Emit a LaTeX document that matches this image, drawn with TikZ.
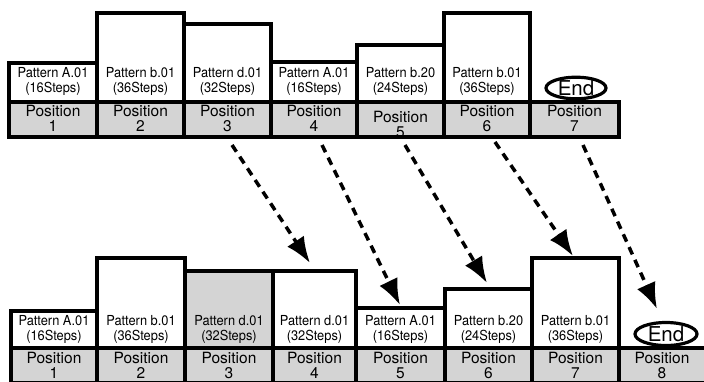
\documentclass[tikz,border=0pt]{standalone}
\usepackage{fontspec}
\setmainfont{TeX Gyre Heros}
\newfontfamily\narrowfont[FakeStretch=0.93]{TeX Gyre Heros}
\usetikzlibrary{fit,shapes.geometric,arrows.meta,calc}
\definecolor{barfill}{RGB}{212,212,212}
\begin{document}
\begin{tikzpicture}[x=1pt,y=-1pt,
  box/.style={draw, line width=3.5pt, inner sep=0pt, outer sep=0pt, fill=white},
  bar/.style={box, fill=barfill},
  lbl/.style={align=center, inner sep=0pt, font=\narrowfont\fontsize{13.8}{15}\selectfont},
  plbl/.style={align=center, inner sep=0pt, font=\fontsize{15.5}{15}\selectfont},
  endnode/.style={draw, ellipse, line width=3.2pt, inner sep=0pt, font=\fontsize{20.5}{20.5}\selectfont},
  flow/.style={line width=3.5pt, dash pattern=on 8pt off 6pt, -{Latex[length=26pt,width=20pt]}}
]
\useasboundingbox (0,0) rectangle (704,381);

% ---------- top row ----------
\node[box, fit={(9,63) (97,102)}] (t1) {};
\node[box, fit={(97,13) (184,102)}] (t2) {};
\node[box, fit={(184,24) (271,102)}] (t3) {};
\node[box, fit={(271,62) (357,102)}] (t4) {};
\node[box, fit={(357,45) (444,102)}] (t5) {};
\node[box, fit={(444,13) (530,102)}] (t6) {};

\node[bar, fit={(9,102) (97,137)}] (p1) {};
\node[bar, fit={(97,102) (184,137)}] (p2) {};
\node[bar, fit={(184,102) (271,137)}] (p3) {};
\node[bar, fit={(271,102) (357,137)}] (p4) {};
\node[bar, fit={(357,102) (444,137)}] (p5) {};
\node[bar, fit={(444,102) (530,137)}] (p6) {};
\node[bar, fit={(530,102) (619,137)}] (p7) {};

\node[lbl] (tl1) at (53,81) {Pattern A.01\\(16Steps)};
\node[lbl] (tl2) at (140.5,81) {Pattern b.01\\(36Steps)};
\node[lbl] (tl3) at (227.5,81) {Pattern d.01\\(32Steps)};
\node[lbl] (tl4) at (314,81) {Pattern A.01\\(16Steps)};
\node[lbl] (tl5) at (400.5,81) {Pattern b.20\\(24Steps)};
\node[lbl] (tl6) at (487,81) {Pattern b.01\\(36Steps)};
\node[endnode, minimum width=60pt, minimum height=21pt] (e1) at (576,88) {End};

\node[plbl] (pl1) at (53,118) {Position\\1};
\node[plbl] (pl2) at (140.5,118) {Position\\2};
\node[plbl] (pl3) at (227.5,118) {Position\\3};
\node[plbl] (pl4) at (314,118) {Position\\4};
\begin{scope}
\clip (357,102) rectangle (444,137);
\node[plbl] (pl5) at (400.5,124) {Position\\5};
\end{scope}
\node[plbl] (pl6) at (487,118) {Position\\6};
\node[plbl] (pl7) at (574.5,118) {Position\\7};
\draw[line width=3.5pt] (p5.north west) rectangle (p5.south east);

% ---------- bottom row ----------
\node[box, fit={(11,311) (97,348)}] (b1) {};
\node[box, fit={(97,258) (185,348)}] (b2) {};
\node[bar, fit={(185,271) (273,348)}] (b3) {};
\node[box, fit={(273,271) (356,348)}] (b4) {};
\node[box, fit={(356,308) (445,348)}] (b5) {};
\node[box, fit={(445,289) (532,348)}] (b6) {};
\node[box, fit={(532,258) (619,348)}] (b7) {};

\node[bar, fit={(11,348) (97,383)}] (q1) {};
\node[bar, fit={(97,348) (185,383)}] (q2) {};
\node[bar, fit={(185,348) (273,383)}] (q3) {};
\node[bar, fit={(273,348) (356,383)}] (q4) {};
\node[bar, fit={(356,348) (445,383)}] (q5) {};
\node[bar, fit={(445,348) (532,383)}] (q6) {};
\node[bar, fit={(532,348) (619,383)}] (q7) {};
\node[bar, fit={(619,348) (708,383)}] (q8) {};

\node[lbl] (bl1) at (54,329) {Pattern A.01\\(16Steps)};
\node[lbl] (bl2) at (141,329) {Pattern b.01\\(36Steps)};
\node[lbl] (bl3) at (229,329) {Pattern d.01\\(32Steps)};
\node[lbl] (bl4) at (314.5,329) {Pattern d.01\\(32Steps)};
\node[lbl] (bl5) at (400.5,329) {Pattern A.01\\(16Steps)};
\node[lbl] (bl6) at (488.5,329) {Pattern b.20\\(24Steps)};
\node[lbl] (bl7) at (575.5,329) {Pattern b.01\\(36Steps)};
\node[endnode, minimum width=62pt, minimum height=23pt] (e2) at (666,334) {End};

\node[plbl] (ql1) at (54,365) {Position\\1};
\node[plbl] (ql2) at (141,365) {Position\\2};
\node[plbl] (ql3) at (229,365) {Position\\3};
\node[plbl] (ql4) at (314.5,365) {Position\\4};
\node[plbl] (ql5) at (400.5,365) {Position\\5};
\node[plbl] (ql6) at (488.5,365) {Position\\6};
\node[plbl] (ql7) at (575.5,365) {Position\\7};
\node[plbl] (ql8) at (662,365) {Position\\8};

% ---------- arrows ----------
\draw[flow] ($(p3.south)+(4.5,8)$) -- ($(b4.north)+(-4.5,-8)$);
\draw[flow] ($(p4.south)+(8,8)$) -- ($(b5.north)+(-0.5,-3)$);
\draw[flow] ($(p5.south)+(4.5,8)$) -- ($(b6.north)+(-1.5,-6)$);
\draw[flow] ($(p6.south)+(8,5)$) -- ($(b7.north)+(-2.5,-2)$);
\draw[flow] ($(p7.south)+(8.5,8)$) -- ($(e2.north)+(-9,-12)$);
\end{tikzpicture}
\end{document}
